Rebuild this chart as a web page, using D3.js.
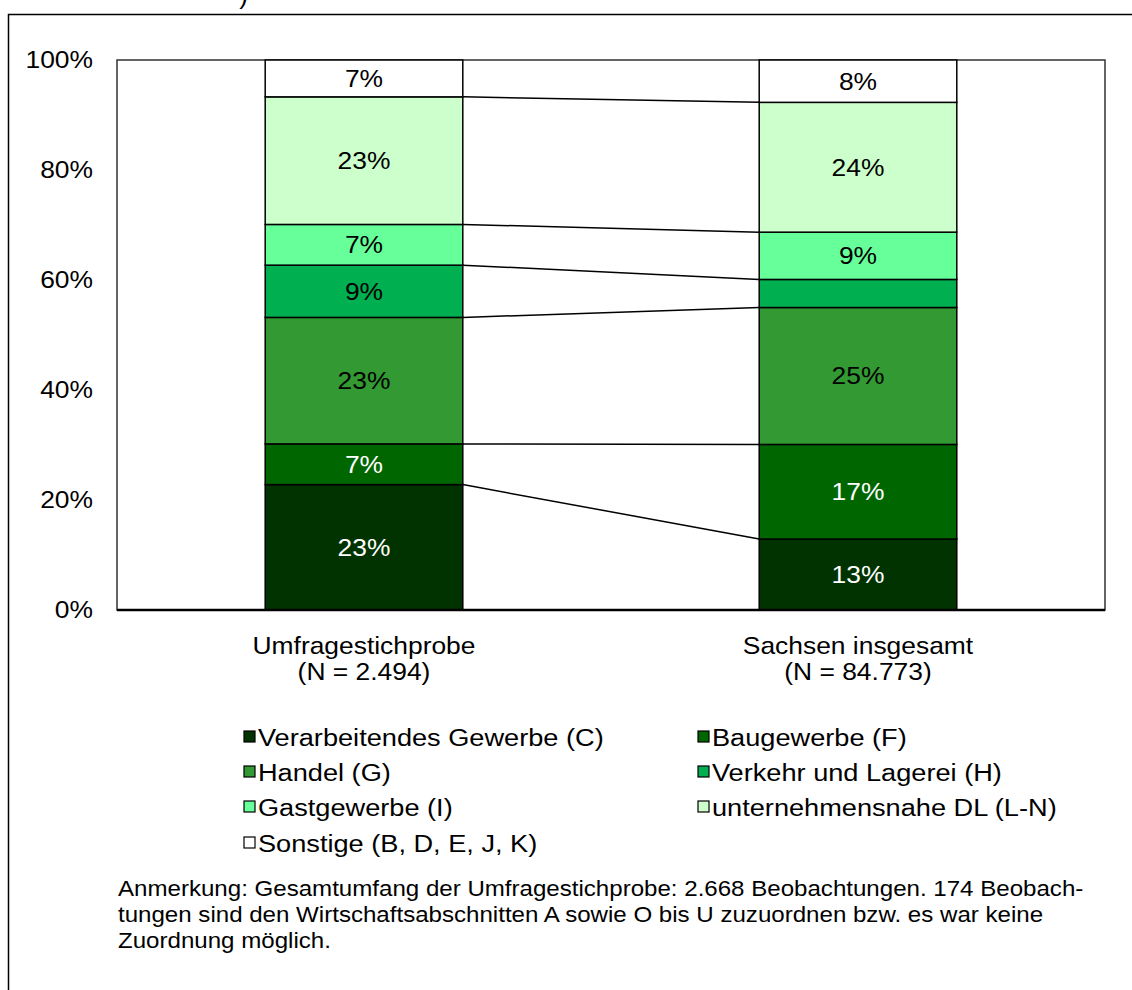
<!DOCTYPE html>
<html>
<head>
<meta charset="utf-8">
<script src="https://cdn.jsdelivr.net/npm/d3@7/dist/d3.min.js"></script>
<style>
  html, body { margin: 0; padding: 0; background: #fff; }
  svg { display: block; font-family: "Liberation Sans", Arial, sans-serif; }
</style>
</head>
<body>
<svg id="chart" width="1132" height="990"></svg>
<script>
// ---- data ----
const categories = ["Umfragestichprobe", "Sachsen insgesamt"];
const categorySub = ["(N = 2.494)", "(N = 84.773)"];
const seriesNames = [
  "Verarbeitendes Gewerbe (C)",
  "Baugewerbe (F)",
  "Handel (G)",
  "Verkehr und Lagerei (H)",
  "Gastgewerbe (I)",
  "unternehmensnahe DL (L-N)",
  "Sonstige (B, D, E, J, K)"
];
const seriesColors = ["#003300", "#006600", "#339933", "#00B050", "#66FF99", "#CCFFCC", "#FFFFFF"];
const labelColors  = ["#FFFFFF", "#FFFFFF", "#000000", "#000000", "#000000", "#000000", "#000000"];
// shares (%) per series: [Umfragestichprobe, Sachsen insgesamt]
const valuesUmfrage = [22.8, 7.4, 23.0, 9.5, 7.4, 23.2, 6.7];
const valuesSachsen = [12.9, 17.2, 24.9, 5.1, 8.6, 23.6, 7.7];
const labelsUmfrage = ["23%", "7%", "23%", "9%", "7%", "23%", "7%"];
const labelsSachsen = ["13%", "17%", "25%", "", "9%", "24%", "8%"];
const yTicks = [0, 20, 40, 60, 80, 100];
const noteLines = [
  "Anmerkung: Gesamtumfang der Umfragestichprobe: 2.668 Beobachtungen. 174 Beobach-",
  "tungen sind den Wirtschaftsabschnitten A sowie O bis U zuzuordnen bzw. es war keine",
  "Zuordnung möglich."
];

const svg = d3.select("#chart");
const FS = 24;
const SX = 1.1; // horizontal stretch of glyphs as in the reference

function stretch(sel) {
  sel.each(function () {
    const t = d3.select(this);
    const xv = +t.attr("x") || 0;
    t.attr("transform", `translate(${xv * (1 - SX)},0) scale(${SX},1)`);
  });
  return sel;
}

// partially visible title glyph at top (cut off)
svg.append("text").attr("x", 248).attr("y", 4).attr("text-anchor", "end")
  .attr("font-size", 26).attr("fill", "#000").text(")");

// outer frame
svg.append("rect").attr("x", 8.5).attr("y", 14.5).attr("width", 1200).attr("height", 1100)
  .attr("fill", "none").attr("stroke", "#000").attr("stroke-width", 1.5);

const plot = { left: 117, right: 1105, top: 60, bottom: 610 };

const x = d3.scaleBand().domain(categories).range([plot.left, plot.right]).paddingInner(0.6).paddingOuter(0.3);
const y = d3.scaleLinear().domain([0, 100]).range([plot.bottom, plot.top]);

// plot area border
svg.append("rect").attr("x", plot.left).attr("y", plot.top)
  .attr("width", plot.right - plot.left).attr("height", plot.bottom - plot.top)
  .attr("fill", "none").attr("stroke", "#333").attr("stroke-width", 1.5);

// build stacked data
const rows = categories.map((c, i) => {
  const o = { cat: c };
  seriesNames.forEach((s, j) => { o[s] = (i === 0 ? valuesUmfrage : valuesSachsen)[j]; });
  return o;
});
const stack = d3.stack().keys(seriesNames)(rows);

// connector lines between bars at segment tops (excluding topmost)
stack.slice(0, seriesNames.length - 1).forEach(layer => {
  svg.append("line")
    .attr("x1", x(categories[0]) + x.bandwidth())
    .attr("y1", y(layer[0][1]))
    .attr("x2", x(categories[1]))
    .attr("y2", y(layer[1][1]))
    .attr("stroke", "#000").attr("stroke-width", 1.5);
});

// bars
stack.forEach((layer, j) => {
  svg.append("g").selectAll("rect").data(layer).join("rect")
    .attr("x", d => x(d.data.cat))
    .attr("y", d => y(d[1]))
    .attr("width", x.bandwidth())
    .attr("height", d => y(d[0]) - y(d[1]))
    .attr("fill", seriesColors[j])
    .attr("stroke", "#000").attr("stroke-width", 1.5);
});

// bar labels
stack.forEach((layer, j) => {
  svg.append("g").selectAll("text").data(layer).join("text")
    .attr("x", d => x(d.data.cat) + x.bandwidth() / 2)
    .attr("y", d => (y(d[0]) + y(d[1])) / 2)
    .attr("dy", "0.35em")
    .attr("text-anchor", "middle")
    .attr("font-size", FS)
    .attr("fill", labelColors[j])
    .text((d, i) => (i === 0 ? labelsUmfrage : labelsSachsen)[j])
    .call(stretch);
});

// y axis
const yAxis = d3.axisLeft(y).tickValues(yTicks).tickFormat(d => d + "%").tickSize(0).tickPadding(24);
const yg = svg.append("g").attr("transform", `translate(${plot.left},0)`).call(yAxis);
yg.select(".domain").remove();
yg.selectAll("text").attr("font-size", FS).attr("fill", "#000")
  .attr("font-family", "'Liberation Sans', Arial, sans-serif").call(stretch);

// x axis
const xAxis = d3.axisBottom(x).tickSize(0).tickFormat("");
const xg = svg.append("g").attr("transform", `translate(0,${plot.bottom})`).call(xAxis);
xg.select(".domain").attr("d", `M${plot.left},0H${plot.right}`).attr("stroke", "#000").attr("stroke-width", 2.5);
categories.forEach((c, i) => {
  const cx = x(c) + x.bandwidth() / 2;
  svg.append("text").attr("x", cx).attr("y", 654).attr("text-anchor", "middle")
    .attr("font-size", FS).text(c).call(stretch);
  svg.append("text").attr("x", cx).attr("y", 680).attr("text-anchor", "middle")
    .attr("font-size", FS).text(categorySub[i]).call(stretch);
});

// legend
const legendCols = [244, 698];
const legendRowY = [737, 772, 807, 843];
seriesNames.forEach((s, j) => {
  const col = j % 2, row = Math.floor(j / 2);
  const g = svg.append("g").attr("transform", `translate(${legendCols[col]},${legendRowY[row]})`);
  g.append("rect").attr("x", 0).attr("y", -6).attr("width", 11).attr("height", 11)
    .attr("fill", seriesColors[j]).attr("stroke", "#000").attr("stroke-width", 1.2);
  g.append("text").attr("x", 14).attr("y", 0).attr("dy", "0.35em")
    .attr("font-size", 24.7).text(s).call(stretch);
});

// note
noteLines.forEach((t, i) => {
  svg.append("text").attr("x", 118).attr("y", 896 + i * 26)
    .attr("font-size", 21.9).text(t).call(stretch);
});
</script>
</body>
</html>
